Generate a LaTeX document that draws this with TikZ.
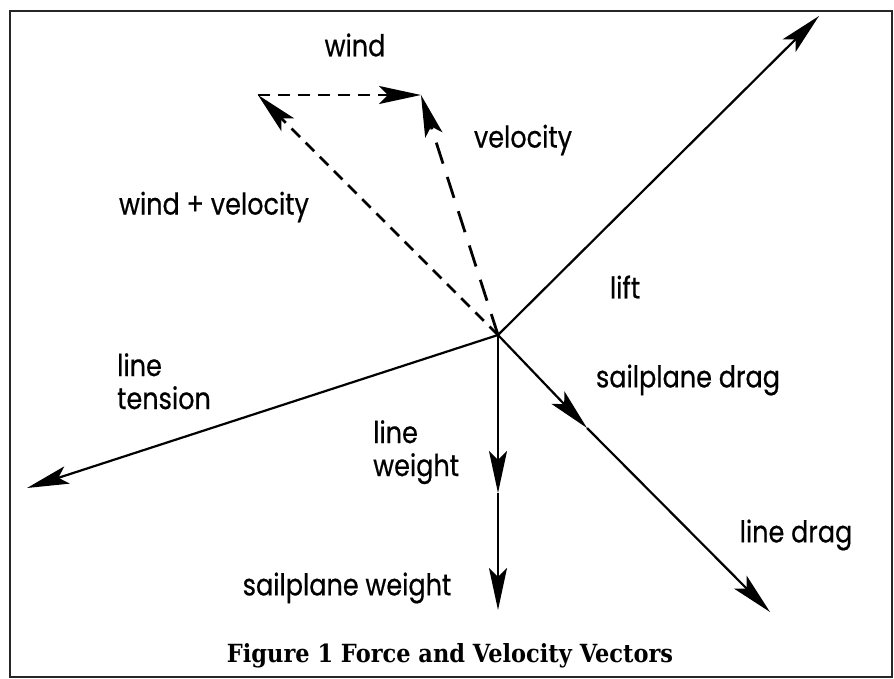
\documentclass[tikz,border=0pt]{standalone}
\usepackage{fontspec}
\setsansfont[FakeStretch=0.85, FakeBold=0.6]{Poppins}
\newfontfamily\capfont[FakeStretch=0.9]{DejaVu Serif}
\usetikzlibrary{arrows.meta}
\tikzset{
  vec/.style={line width=2.2pt, -{Stealth[length=42pt,width=18pt,inset=9pt]}},
  dvec/.style={vec, line width=2.8pt, dash pattern=on 12pt off 8pt},
  lbl/.style={font=\sffamily\fontsize{30}{33}\selectfont, inner sep=0pt},
  lbltwo/.style={lbl, align=left, anchor=north west}}

\begin{document}
\begin{tikzpicture}[x=1pt,y=-1pt]
\useasboundingbox (0,0) rectangle (894,679);
\draw[line width=2.5pt, black!85] (10,11) rectangle (892,677);

% force and velocity points
\coordinate (O) at (498,335);
\coordinate (Plift) at (819,16);
\coordinate (Pten) at (27,488);
\coordinate (Psd) at (587,428);
\coordinate (Pld) at (770,612);
\coordinate (Plw) at (498,493);
\coordinate (Psw) at (498,610);
\coordinate (Pwv) at (258,95);
\coordinate (Pv) at (421,95);

\draw[vec] (O) -- (Plift);
\draw[vec] (O) -- (Pten);
\draw[vec] (O) -- (Psd);
\draw[vec] (Psd) -- (Pld);
\draw[vec] (O) -- (Plw);
\draw[vec] (Plw) -- (Psw);
\draw[dvec] (O) -- (Pwv);
\draw[dvec, dash pattern=on 22pt off 14pt] (O) -- (Pv);
\draw[dvec] (Pwv) -- (Pv);

% labels
\node[lbl] (wind) at (355,45) {wind};
\node[lbl] (vel) at (523,140) {velocity};
\node[lbl] (wv) at (214,207) {wind + velocity};
\node[lbl] (lift) at (625,287) {lift};
\node[lbltwo] (ten) at (117,353) {line\\tension};
\node[lbltwo] (lw) at (373,420) {line\\weight};
\node[lbl] (sd) at (688,380) {sailplane drag};
\node[lbl] (ld) at (796,535) {line drag};
\node[lbl] (sw) at (347,588) {sailplane weight};
\node[font=\capfont\bfseries\fontsize{25}{28}\selectfont, inner sep=0pt] (cap) at (450,656) {Figure 1 Force and Velocity Vectors};
\end{tikzpicture}
\end{document}
